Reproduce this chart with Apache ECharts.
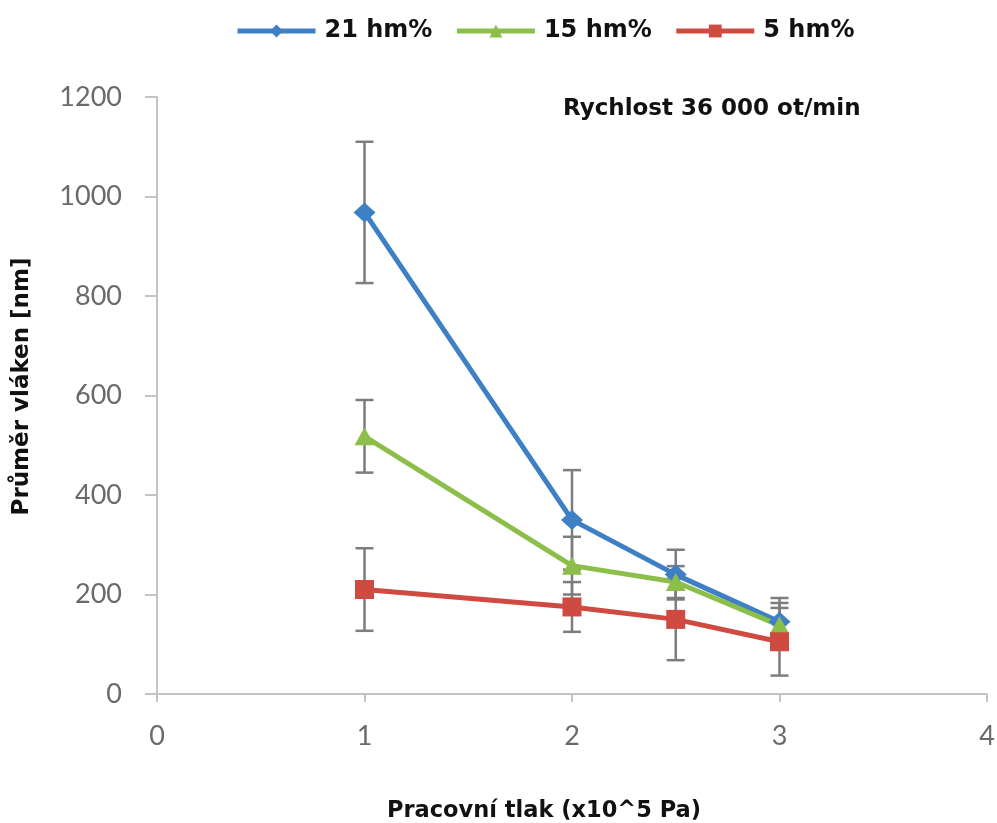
<!DOCTYPE html>
<html><head><meta charset="utf-8">
<script src="https://cdn.jsdelivr.net/npm/echarts@6/dist/echarts.min.js"></script>
<style>html,body{margin:0;padding:0;background:#fff}#c{width:997px;height:823px}</style>
</head><body><div id="c"></div>
<script>
var pressure = [1, 2, 2.5, 3];
var names = ['21 hm%', '15 hm%', '5 hm%'];
var s21 = [968, 350, 240, 145];
var e21 = [142, 100, 50, 48];
var s15 = [518, 258, 225, 138];
var e15 = [73, 58, 32, 45];
var s5 = [210, 175, 150, 105];
var e5 = [83, 50, 82, 68];
var xTicks = [0, 1, 2, 3, 4];
var yTicks = [0, 200, 400, 600, 800, 1000, 1200];

var colors = ['#3f7fc6', '#8cbf4a', '#cf4a40'];
var symbols = ['diamond', 'triangle', 'rect'];
var sizes = [[22, 20], [20, 18], 19];
var vals = [s21, s15, s5];
var errs = [e21, e15, e5];
var boldFont = 'DejaVu Sans, Liberation Sans, sans-serif';

function pairs(v){ return pressure.map(function(x,i){ return [x, v[i]]; }); }
function errData(v,e){ return pressure.map(function(x,i){ return [x, v[i]-e[i], v[i]+e[i]]; }); }

var series = [];
vals.forEach(function(v, k){
  series.push({
    type: 'custom', name: names[k] + ' err', z: 1, silent: true,
    data: errData(v, errs[k]),
    encode: {x: 0, y: [1, 2]},
    renderItem: function(params, api){
      var lo = api.coord([api.value(0), api.value(1)]);
      var hi = api.coord([api.value(0), api.value(2)]);
      var w = 9;
      var st = {stroke: '#7d7d7d', lineWidth: 2.5};
      return {type: 'group', children: [
        {type: 'line', shape: {x1: lo[0], y1: lo[1], x2: hi[0], y2: hi[1]}, style: st},
        {type: 'line', shape: {x1: lo[0]-w, y1: lo[1], x2: lo[0]+w, y2: lo[1]}, style: st},
        {type: 'line', shape: {x1: hi[0]-w, y1: hi[1], x2: hi[0]+w, y2: hi[1]}, style: st}
      ]};
    }
  });
});
vals.forEach(function(v, k){
  series.push({
    type: 'line', name: names[k], z: 3,
    data: pairs(v),
    symbol: symbols[k], symbolSize: sizes[k],
    lineStyle: {color: colors[k], width: 5},
    itemStyle: {color: colors[k]},
    emphasis: {disabled: true}
  });
});

var chart = echarts.init(document.getElementById('c'));
chart.setOption({
  animation: false,
  color: colors,
  legend: {
    data: names,
    top: 14, left: 230, itemWidth: 78, itemHeight: 16, itemGap: 22,
    lineStyle: {width: 5},
    textStyle: {fontFamily: boldFont, fontWeight: 'bold', fontSize: 24, color: '#111', padding: [0, 0, 0, 4]}
  },
  title: {
    text: 'Rychlost 36 000 ot/min', left: 558, top: 93,
    textStyle: {fontFamily: boldFont, fontWeight: 'bold', fontSize: 23, color: '#111'}
  },
  grid: {left: 157, right: 10, top: 97, bottom: 129, outerBoundsMode: 'none', containLabel: false},
  xAxis: {
    type: 'value', min: xTicks[0], max: xTicks[xTicks.length-1], interval: 1,
    name: 'Pracovní tlak (x10^5 Pa)', nameLocation: 'middle', nameGap: 106,
    nameTextStyle: {fontFamily: boldFont, fontWeight: 'bold', fontSize: 22.5, color: '#111', padding: [0, 56, 0, 0]},
    axisLine: {lineStyle: {color: '#c4c4c4', width: 2}},
    axisTick: {show: true, length: 8, lineStyle: {color: '#c4c4c4', width: 2}},
    axisLabel: {fontFamily: 'Lato, sans-serif', fontSize: 27, color: '#6a6a6a', margin: 29},
    splitLine: {show: false}
  },
  yAxis: {
    type: 'value', min: yTicks[0], max: yTicks[yTicks.length-1], interval: 200,
    name: 'Průměr vláken [nm]', nameLocation: 'middle', nameGap: 123, nameRotate: 90,
    nameTextStyle: {fontFamily: boldFont, fontWeight: 'bold', fontSize: 23, color: '#111', padding: [0, 0, 0, 18]},
    axisLine: {show: true, lineStyle: {color: '#c4c4c4', width: 2}},
    axisTick: {show: true, length: 12, lineStyle: {color: '#c4c4c4', width: 2}},
    axisLabel: {fontFamily: 'Lato, sans-serif', fontSize: 27, color: '#6a6a6a', margin: 35,
      formatter: function(v){ return String(v); }},
    splitLine: {show: false}
  },
  series: series
});
</script></body></html>
